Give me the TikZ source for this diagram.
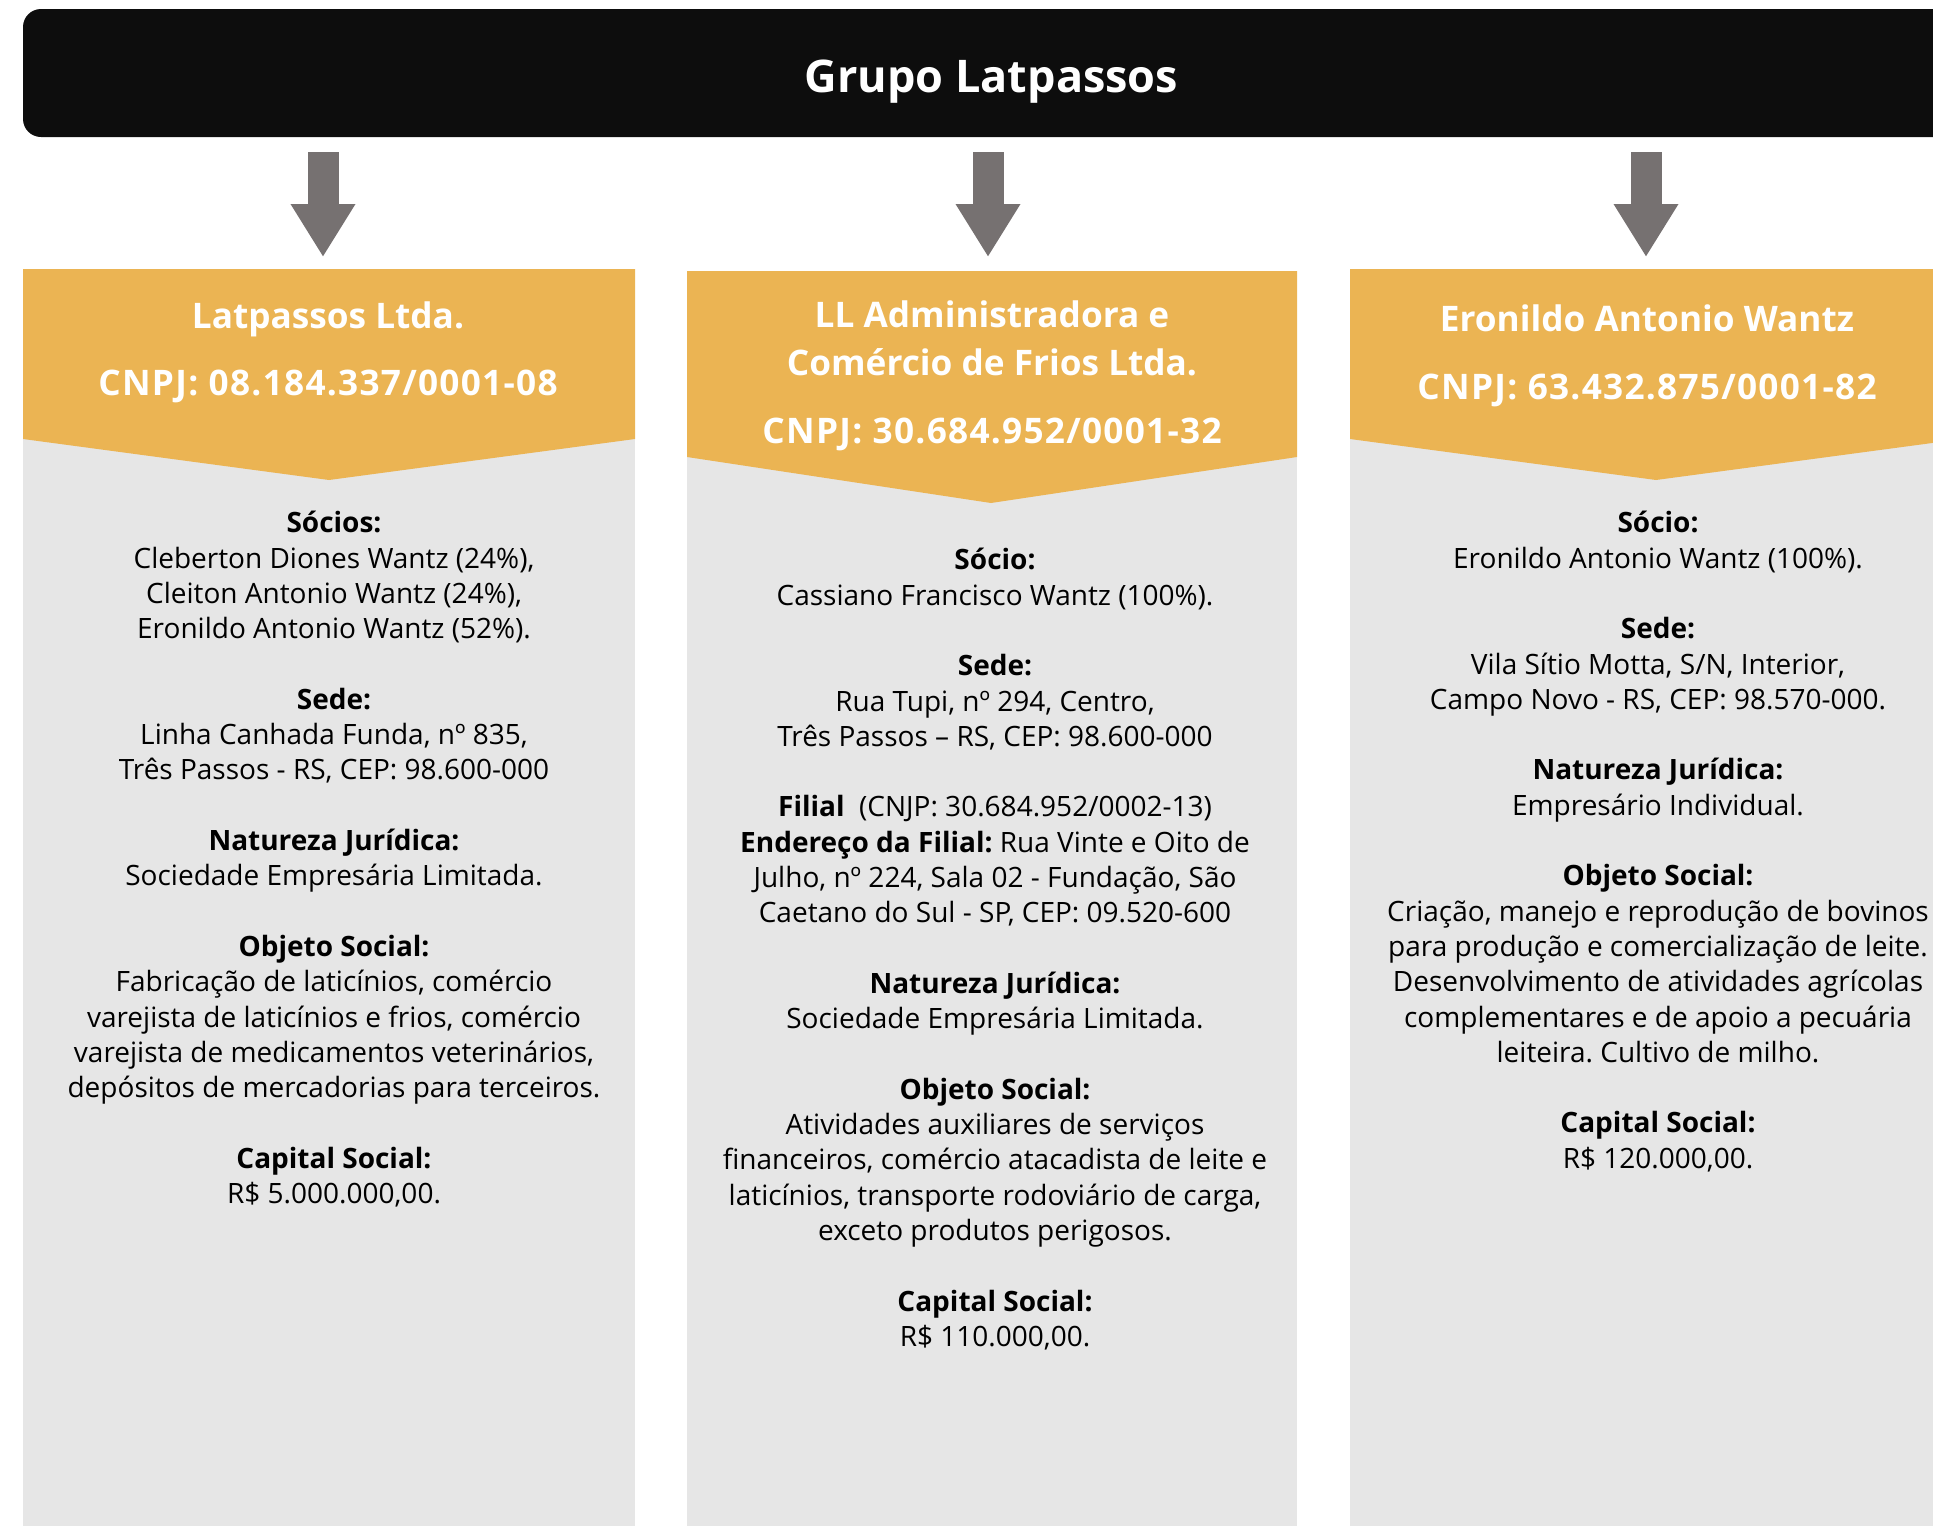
\documentclass[tikz,border=0pt]{standalone}
\usepackage{fontspec}
\setmainfont{Open Sans}
\usepackage{xcolor}
\usetikzlibrary{arrows.meta, positioning, calc}
\frenchspacing
\definecolor{bannerblack}{RGB}{13,13,13}
\definecolor{headgold}{RGB}{235,180,83}
\definecolor{bodygray}{RGB}{230,230,230}
\definecolor{arrowgray}{RGB}{118,113,113}
\newcommand{\secgap}{\\[17.65pt]}
\newcommand{\cnpjline}[1]{{\addfontfeature{LetterSpace=3.6}CNPJ: #1}}
\tikzset{
    banner/.style={fill=bannerblack, rounded corners=9pt, text=white, inner sep=0pt,
        text height=24.8pt, text depth=5.4pt, font=\bfseries\fontsize{22.5}{28}\selectfont},
    headfill/.style={fill=headgold},
    bodyfill/.style={fill=bodygray},
    down_arrow/.style={-{Triangle[width=30.5pt, length=26.5pt]}, line width=15.5pt, arrowgray},
    head_text/.style={text=white, font=\bfseries\fontsize{17.6}{24}\selectfont, align=center, inner sep=0pt},
    body_text/.style={text=black, font=\fontsize{14}{17.65}\selectfont, align=center, inner sep=0pt, anchor=north}
}

\begin{document}
\begin{tikzpicture}[x=0.5pt, y=-0.5pt]
    \useasboundingbox (0,0) rectangle (1933,1526);
    % Group banner
    \node[banner, minimum width=968.5pt, minimum height=64pt] (grupo) at (991.5,73) {Grupo Latpassos};
    % Column shapes
    \fill[bodyfill] (23,269) rectangle (635,1526);
    \fill[headfill] (23,269) -- (635,269) -- (635,439) -- (329,480) -- (23,439) -- cycle;
    \fill[bodyfill] (687,271) rectangle (1297,1526);
    \fill[headfill] (687,271) -- (1297,271) -- (1297,457) -- (991,503) -- (687,457) -- cycle;
    \fill[bodyfill] (1350,269) rectangle (1962,1526);
    \fill[headfill] (1350,269) -- (1962,269) -- (1962,439) -- (1656,480) -- (1350,439) -- cycle;
    % Arrows from the group
    \coordinate (from1) at (323,152);
    \coordinate (to1) at (323,257);
    \coordinate (from2) at (988,152);
    \coordinate (to2) at (988,257);
    \coordinate (from3) at (1646,152);
    \coordinate (to3) at (1646,257);
    \draw[down_arrow] (from1) -- (to1);
    \draw[down_arrow] (from2) -- (to2);
    \draw[down_arrow] (from3) -- (to3);
    % Company titles
    \node[head_text] (latpassos) at (328,352) {Latpassos Ltda.\\[9.5pt] \cnpjline{08.184.337/0001-08}};
    \node[head_text] (admin) at (992,376) {LL Administradora e\\ Comércio de Frios Ltda.\\[10pt] \cnpjline{30.684.952/0001-32}};
    \node[head_text] (eronildo) at (1647,356) {Eronildo Antonio Wantz\\[10pt] \cnpjline{63.432.875/0001-82}};
    % Company details
    \node[body_text] (latpassos_info) at (334,511) {%
        \textbf{Sócios:}\\
        Cleberton Diones Wantz (24\%),\\
        Cleiton Antonio Wantz (24\%),\\
        Eronildo Antonio Wantz (52\%).\secgap
        \textbf{Sede:}\\
        Linha Canhada Funda, nº 835,\\
        Três Passos - RS, CEP: 98.600-000\secgap
        \textbf{Natureza Jurídica:}\\
        Sociedade Empresária Limitada.\secgap
        \textbf{Objeto Social:}\\
        Fabricação de laticínios, comércio\\
        varejista de laticínios e frios, comércio\\
        varejista de medicamentos veterinários,\\
        depósitos de mercadorias para terceiros.\secgap
        \textbf{Capital Social:}\\
        R\$ 5.000.000,00.};
    \node[body_text] (admin_info) at (995,548) {%
        \textbf{Sócio:}\\
        Cassiano Francisco Wantz (100\%).\secgap
        \textbf{Sede:}\\
        Rua Tupi, nº 294, Centro,\\
        Três Passos – RS, CEP: 98.600-000\secgap
        \textbf{Filial}\ \ (CNJP: 30.684.952/0002-13)\\
        \textbf{Endereço da Filial:} Rua Vinte e Oito de\\
        Julho, nº 224, Sala 02 - Fundação, São\\
        Caetano do Sul - SP, CEP: 09.520-600\secgap
        \textbf{Natureza Jurídica:}\\
        Sociedade Empresária Limitada.\secgap
        \textbf{Objeto Social:}\\
        Atividades auxiliares de serviços\\
        financeiros, comércio atacadista de leite e\\
        laticínios, transporte rodoviário de carga,\\
        exceto produtos perigosos.\secgap
        \textbf{Capital Social:}\\
        R\$ 110.000,00.};
    \node[body_text] (eronildo_info) at (1658,511) {%
        \textbf{Sócio:}\\
        Eronildo Antonio Wantz (100\%).\secgap
        \textbf{Sede:}\\
        Vila Sítio Motta, S/N, Interior,\\
        Campo Novo - RS, CEP: 98.570-000.\secgap
        \textbf{Natureza Jurídica:}\\
        Empresário Individual.\secgap
        \textbf{Objeto Social:}\\
        Criação, manejo e reprodução de bovinos\\
        para produção e comercialização de leite.\\
        Desenvolvimento de atividades agrícolas\\
        complementares e de apoio a pecuária\\
        leiteira. Cultivo de milho.\secgap
        \textbf{Capital Social:}\\
        R\$ 120.000,00.};
\end{tikzpicture}
\end{document}
